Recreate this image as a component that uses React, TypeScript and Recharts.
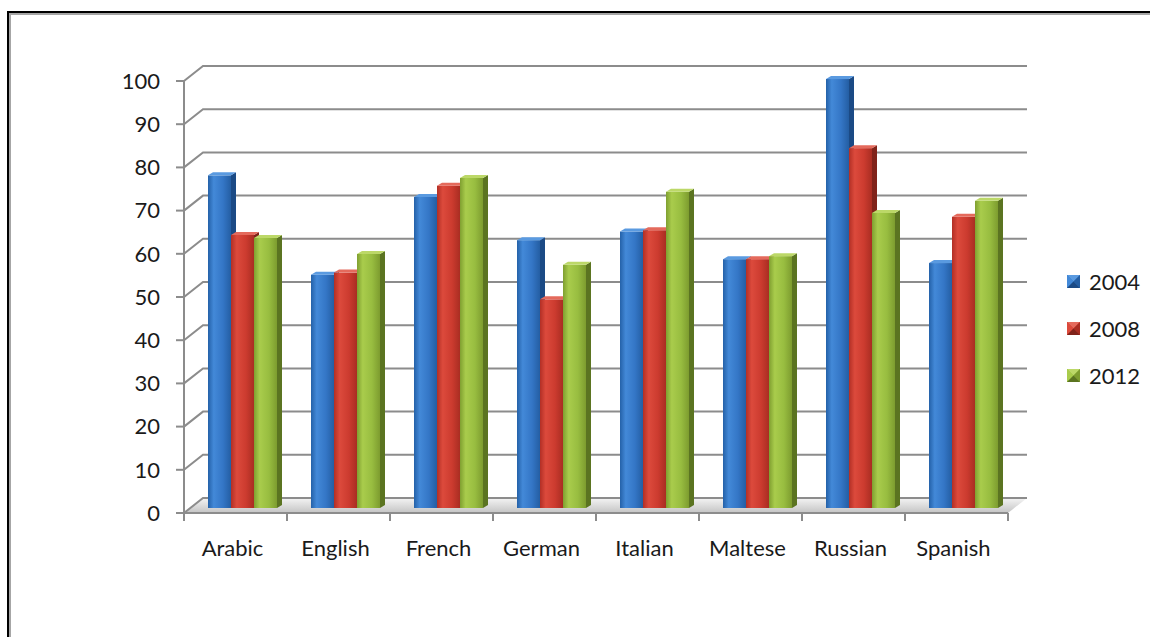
import React from 'react';
import { BarChart, Bar, XAxis, YAxis, CartesianGrid, Legend } from 'recharts';

const CATEGORIES = ['Arabic', 'English', 'French', 'German', 'Italian', 'Maltese', 'Russian', 'Spanish'];
const SERIES = ['2004', '2008', '2012'];
const V2004 = [77, 54, 72, 62, 64, 57.6, 99.3, 56.7];
const V2008 = [63.2, 54.5, 74.6, 48.3, 64.3, 57.6, 83.3, 67.4];
const V2012 = [62.5, 58.8, 76.4, 56.3, 73.2, 58.3, 68.3, 71.1];
const Y_TICKS = [0, 10, 20, 30, 40, 50, 60, 70, 80, 90, 100];

const data = CATEGORIES.map((c, i) => ({
  name: c,
  '2004': V2004[i],
  '2008': V2008[i],
  '2012': V2012[i],
}));

const PALETTE = [
  { id: 'b', edge: '#2461a8', light: '#4389d8', mid: '#3476c6', dark: '#245ea3', side: '#1b4a85', top: '#5a9ae0', legend: '#2f6fbf' },
  { id: 'r', edge: '#b22f25', light: '#dc4a3c', mid: '#cc3b2f', dark: '#a92d22', side: '#80231a', top: '#e46a5c', legend: '#c0392b' },
  { id: 'g', edge: '#7f9f30', light: '#a9cc4c', mid: '#98bd40', dark: '#7d9c2f', side: '#5b7421', top: '#bcd868', legend: '#8db23a' },
];

const DX = 19; // depth offset x
const DY = -15; // depth offset y
const FONT = 'Lato, "Open Sans", sans-serif';
const FS = 22;
const GRID = '#8c8c8c';

function Bar3D(props: any) {
  const { x, y, width, height, pal } = props;
  if (width == null || height == null) return null;
  const bx = x + 7;
  const by = y - 5;
  const w = width;
  const h = height;
  const sd = 5;
  const su = -3;
  return (
    <g>
      <polygon
        points={`${bx + w},${by} ${bx + w + sd},${by + su} ${bx + w + sd},${by + h + su} ${bx + w},${by + h}`}
        fill={pal.side}
      />
      <rect x={bx} y={by} width={w} height={h} fill={`url(#front-${pal.id})`} />
      <polygon
        points={`${bx},${by} ${bx + w},${by} ${bx + w + sd},${by + su} ${bx + sd},${by + su}`}
        fill={pal.top}
      />
    </g>
  );
}

function GridLine(props: any) {
  const { x1, y1, x2, index } = props;
  const pts = `${x1},${y1} ${x1 + DX},${y1 + DY} ${x2 + DX},${y1 + DY}`;
  return (
    <g key={`gl-${index}-${y1}`}>
      {index === 0 ? (
        <polygon
          points={`${x1},${y1} ${x2},${y1} ${x2 + DX},${y1 + DY} ${x1 + DX},${y1 + DY}`}
          fill="url(#floor)"
        />
      ) : null}
      <polyline points={pts} fill="none" stroke={GRID} strokeWidth={2} />
    </g>
  );
}

function XTick(props: any) {
  const { x, y, payload, index, visibleTicksCount } = props;
  const half = payload && payload.offset ? payload.offset : 51.5;
  const top = y - 26;
  return (
    <g>
      <line x1={x - half} y1={top} x2={x - half} y2={top + 8} stroke={GRID} strokeWidth={2} />
      {index === visibleTicksCount - 1 ? (
        <line x1={x + half} y1={top} x2={x + half} y2={top + 8} stroke={GRID} strokeWidth={2} />
      ) : null}
      <text x={x - 3} y={y + 1} dy="0.71em" textAnchor="middle" fill="#1a1a1a" fontFamily={FONT} fontSize={FS}>
        {payload.value}
      </text>
    </g>
  );
}

function LegendMarker({ pal }: { pal: any }) {
  const s = 13;
  const c = s / 2;
  return (
    <svg width={s} height={s} style={{ display: 'block', flexShrink: 0 }}>
      <rect x={0} y={0} width={s} height={s} fill={pal.mid} />
      <polygon points={`0,0 ${s},0 ${c},${c}`} fill={pal.top} />
      <polygon points={`0,0 0,${s} ${c},${c}`} fill={pal.light} />
      <polygon points={`${s},0 ${s},${s} ${c},${c}`} fill={pal.dark} />
      <polygon points={`0,${s} ${s},${s} ${c},${c}`} fill={pal.side} />
    </svg>
  );
}

function LegendContent() {
  return (
    <div style={{ whiteSpace: 'nowrap', width: 90 }}>
      {SERIES.map((s, i) => (
        <div key={s} style={{ display: 'flex', alignItems: 'center', height: 47 }}>
          <LegendMarker pal={PALETTE[i]} />
          <span style={{ marginLeft: 9, flexShrink: 0, fontFamily: FONT, fontSize: FS, color: '#1a1a1a' }}>{s}</span>
        </div>
      ))}
    </div>
  );
}

export default function App() {
  return (
    <div
      style={{
        position: 'fixed',
        left: 0,
        top: 0,
        width: 1150,
        height: 637,
        overflow: 'hidden',
        background: '#ffffff',
      }}
    >
      <div
        style={{
          position: 'absolute',
          left: 7,
          top: 11,
          width: 1300,
          height: 800,
          borderLeft: '2px solid #000',
          borderTop: '2px solid #000',
          boxShadow: 'inset 2px 2px 0 #a6a6a6',
        }}
      />
      <div style={{ position: 'absolute', left: 0, top: 0 }}>
        <BarChart
          width={1150}
          height={637}
          data={data}
          margin={{ top: 81, right: 142, bottom: 64, left: 0 }}
          barGap={0}
          barSize={23}
        >
          <defs>
            {PALETTE.map((p) => (
              <linearGradient key={p.id} id={`front-${p.id}`} x1="0" y1="0" x2="1" y2="0">
                <stop offset="0%" stopColor={p.edge} />
                <stop offset="25%" stopColor={p.light} />
                <stop offset="65%" stopColor={p.mid} />
                <stop offset="100%" stopColor={p.dark} />
              </linearGradient>
            ))}
            <linearGradient id="floor" x1="0" y1="0" x2="0" y2="1">
              <stop offset="0%" stopColor="#f4f4f4" />
              <stop offset="100%" stopColor="#c4c4c4" />
            </linearGradient>
          </defs>
          <CartesianGrid vertical={false} horizontal={(p: any) => <GridLine {...p} />} />
          <XAxis
            dataKey="name"
            height={60}
            axisLine={{ stroke: GRID, strokeWidth: 2 }}
            tickLine={false}
            tickSize={8}
            tickMargin={18}
            tick={(p: any) => <XTick {...p} />}
            interval={0}
          />
          <YAxis
            width={184}
            domain={[0, 100]}
            ticks={Y_TICKS}
            interval={0}
            axisLine={{ stroke: GRID, strokeWidth: 2 }}
            tickLine={{ stroke: GRID, strokeWidth: 2 }}
            tickSize={8}
            tickMargin={16}
            tick={{ fill: '#1a1a1a', fontFamily: FONT, fontSize: FS }}
          />
          <Legend
            layout="vertical"
            align="right"
            verticalAlign="middle"
            content={() => <LegendContent />}
            wrapperStyle={{ left: 1067, top: 258, width: 0, right: 'auto' }}
          />
          {SERIES.map((s, i) => (
            <Bar
              key={s}
              dataKey={s}
              name={s}
              fill={PALETTE[i].legend}
              isAnimationActive={false}
              shape={(p: any) => <Bar3D {...p} pal={PALETTE[i]} />}
            />
          ))}
        </BarChart>
      </div>
    </div>
  );
}
